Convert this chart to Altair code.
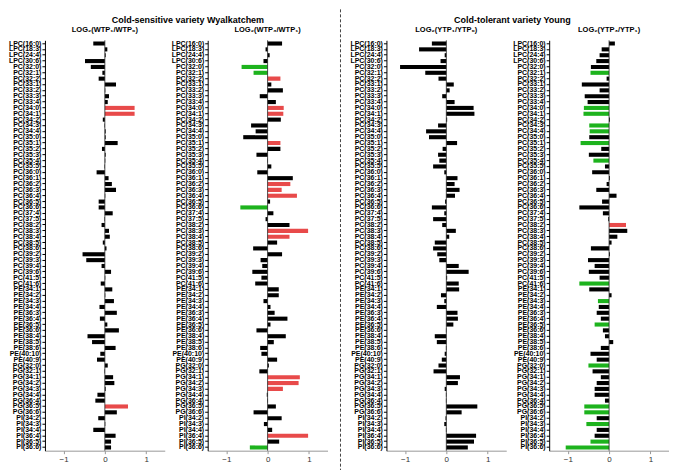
import altair as alt
import pandas as pd

lipids = [
    "LPC(16:0)", "LPC(18:3)", "LPC(24:4)", "LPC(30:6)",
    "PC(32:0)", "PC(32:1)", "PC(32:2)", "PC(33:1)", "PC(33:2)", "PC(33:3)", "PC(33:4)",
    "PC(34:0)", "PC(34:1)", "PC(34:2)", "PC(34:3)", "PC(34:4)",
    "PC(35:0)", "PC(35:1)", "PC(35:2)", "PC(35:3)", "PC(35:4)", "PC(35:5)",
    "PC(36:0)", "PC(36:1)", "PC(36:2)", "PC(36:3)", "PC(36:4)", "PC(36:5)", "PC(36:6)",
    "PC(37:4)", "PC(37:5)", "PC(38:2)", "PC(38:3)", "PC(38:4)", "PC(38:5)", "PC(38:6)",
    "PC(39:2)", "PC(39:3)", "PC(39:4)", "PC(39:6)", "PC(41:5)", "PC(41:6)",
    "PE(34:1)", "PE(34:2)", "PE(34:3)", "PE(34:4)", "PE(36:3)", "PE(36:4)", "PE(36:5)", "PE(36:6)",
    "PE(38:4)", "PE(38:5)", "PE(38:6)", "PE(40:10)", "PE(40:9)",
    "PG(32:0)", "PG(32:1)", "PG(34:1)", "PG(34:2)", "PG(34:3)", "PG(34:4)", "PG(36:4)", "PG(36:5)", "PG(36:6)",
    "PI(34:2)", "PI(34:3)", "PI(34:4)", "PI(36:4)", "PI(36:5)", "PI(36:6)",
]

wt_1_0 = [-0.28, 0.06, 0.02, -0.48, -0.34, -0.06, -0.15, 0.27, 0.01, 0.10,
          0.07, 0.72, 0.72, -0.05, -0.01, 0.02, 0.02, 0.31, -0.07, 0.02,
          0.01, -0.01, -0.20, 0.09, 0.17, 0.27, 0.01, -0.15, -0.15, 0.19,
          -0.01, -0.08, 0.10, 0.12, -0.05, 0.04, -0.54, -0.45, -0.08, 0.15,
          0.01, -0.10, 0.18, 0.01, 0.22, -0.13, 0.29, -0.12, 0.06, 0.34,
          -0.42, -0.31, 0.26, -0.11, -0.19, 0.07, -0.01, 0.20, 0.23, 0.02,
          -0.18, -0.23, 0.56, 0.29, -0.16, 0.01, -0.28, 0.26, 0.15, 0.15]
wt_1_0_up = [11, 12, 62]
wt_1_0_down = []

wt_3_1 = [0.35, -0.05, 0.05, -0.10, -0.63, -0.34, 0.31, 0.09, 0.37, -0.19,
          0.20, 0.39, 0.38, 0.32, -0.40, -0.29, -0.59, 0.31, 0.31, -0.27,
          -0.01, 0.09, -0.25, 0.61, 0.55, 0.34, 0.71, 0.06, -0.66, 0.14,
          -0.05, 0.53, 0.98, 0.53, 0.23, -0.35, 0.35, -0.17, -0.13, -0.37,
          -0.15, -0.30, 0.27, 0.27, -0.10, 0.07, 0.17, 0.48, 0.07, -0.27,
          0.44, 0.15, -0.18, -0.15, 0.23, 0.03, -0.20, 0.78, 0.75, 0.37,
          -0.02, 0.01, 0.20, -0.34, 0.34, -0.09, 0.11, 0.98, 0.28, -0.43]
wt_3_1_up = [6, 11, 12, 17, 24, 25, 26, 32, 33, 57, 58, 59, 67]
wt_3_1_down = [4, 5, 28, 69]

yt_1_0 = [-0.35, -0.66, -0.04, -0.14, -1.12, -0.51, -0.19, 0.18, 0.08, -0.10,
          0.20, 0.66, 0.68, 0.02, -0.20, -0.49, -0.42, 0.26, -0.09, -0.20,
          -0.17, -0.32, -0.05, 0.27, 0.20, 0.32, 0.21, -0.03, -0.35, -0.05,
          -0.32, -0.10, 0.23, 0.07, -0.28, -0.32, -0.22, -0.17, 0.30, 0.54,
          0.02, 0.30, 0.31, -0.13, -0.05, -0.23, 0.27, 0.28, 0.17, -0.01,
          -0.28, -0.23, -0.01, -0.04, -0.11, -0.19, -0.31, 0.33, 0.28, -0.04,
          -0.01, -0.01, 0.75, 0.37, -0.02, -0.05, -0.01, 0.72, 0.67, 0.52]
yt_1_0_up = []
yt_1_0_down = []

yt_3_1 = [0.14, -0.18, -0.23, -0.31, -0.44, -0.45, -0.06, -0.66, -0.23, -0.59,
          -0.52, -0.61, -0.62, 0.02, -0.48, -0.47, -0.48, -0.69, -0.19, -0.49,
          -0.38, -0.10, -0.41, 0.02, -0.06, -0.31, 0.18, -0.17, -0.72, -0.15,
          -0.02, 0.41, 0.44, 0.20, 0.06, -0.44, 0.02, -0.51, -0.35, -0.49,
          -0.23, -0.72, -0.48, 0.06, -0.27, -0.25, -0.30, -0.20, -0.35, -0.15,
          -0.10, 0.10, -0.20, -0.45, -0.30, -0.50, -0.40, -0.20, -0.30, -0.35,
          -0.35, -0.10, -0.60, -0.60, -0.30, -0.55, -0.30, -0.35, -0.45, -1.05]
yt_3_1_up = [31]
yt_3_1_down = [5, 11, 12, 14, 15, 17, 20, 41, 44, 48, 55, 62, 63, 65, 68, 69]


def sig_list(n, up, down):
    out = ["n"] * n
    for i in up:
        out[i] = "up"
    for i in down:
        out[i] = "down"
    return out


FONT = "Liberation Sans"
W, H = 120, 411


def panel(title, vals, sig):
    df = pd.DataFrame({"lipid": lipids, "value": vals, "sig": sig})
    xscale = alt.Scale(domain=[-1.45, 1.45], nice=False, zero=False)
    bars = alt.Chart(df).mark_bar().encode(
        y=alt.Y("lipid:N", sort=lipids, title=None,
                scale=alt.Scale(paddingInner=0.3, paddingOuter=0.2),
                axis=alt.Axis(labelFont=FONT, labelFontSize=7, labelFontWeight="bold",
                              labelColor="#000", domainColor="#000", tickColor="#000",
                              tickSize=3, labelPadding=1, labelOverlap=False)),
        x=alt.X("value:Q", scale=xscale, title=None,
                axis=alt.Axis(values=[-1, 0, 1], grid=False, labelFont=FONT,
                              labelFontSize=8, labelColor="#333", domainColor="#999",
                              tickColor="#999", tickSize=3, labelPadding=2)),
        color=alt.Color("sig:N", legend=None,
                        scale=alt.Scale(domain=["n", "up", "down"],
                                        range=["#000000", "#e84a4a", "#1db31d"])),
    )
    zero = alt.Chart(pd.DataFrame({"z": [0]})).mark_rule(color="#222", strokeWidth=0.8).encode(
        x=alt.X("z:Q", scale=xscale))
    return alt.layer(bars, zero).properties(
        width=W, height=H,
        title=alt.Title(title, font=FONT, fontSize=7.5, fontWeight="bold",
                        frame="group", anchor="middle", offset=6, color="#000"))


p1 = panel("LOG₂(WTP₁/WTP₀)", wt_1_0, sig_list(70, wt_1_0_up, wt_1_0_down))
p2 = panel("LOG₂(WTP₃/WTP₁)", wt_3_1, sig_list(70, wt_3_1_up, wt_3_1_down))
p3 = panel("LOG₂(YTP₁/YTP₀)", yt_1_0, sig_list(70, yt_1_0_up, yt_1_0_down))
p4 = panel("LOG₂(YTP₃/YTP₁)", yt_3_1, sig_list(70, yt_3_1_up, yt_3_1_down))

divider = alt.Chart(pd.DataFrame({"a": [0]})).mark_rule(
    color="#444", strokeDash=[3, 2], strokeWidth=1).encode(
    x=alt.value(0), y=alt.value(-31), y2=alt.value(H + 22)).properties(width=1, height=H)

left = alt.hconcat(p1, p2, spacing=6).properties(
    title=alt.Title("Cold-sensitive variety Wyalkatchem", font=FONT, fontSize=9,
                    fontWeight="bold", color="#000", anchor="middle", offset=1, dx=20))
right = alt.hconcat(p3, p4, spacing=6).properties(
    title=alt.Title("Cold-tolerant variety Young", font=FONT, fontSize=9,
                    fontWeight="bold", color="#000", anchor="middle", offset=1, dx=3))

chart = alt.hconcat(left, alt.hconcat(divider, right, spacing=8), spacing=12).properties(
    padding=0).configure(background="white", view=alt.ViewConfig(stroke=None))

chart.save("out.html", embed_options={"renderer": "svg", "actions": False})
